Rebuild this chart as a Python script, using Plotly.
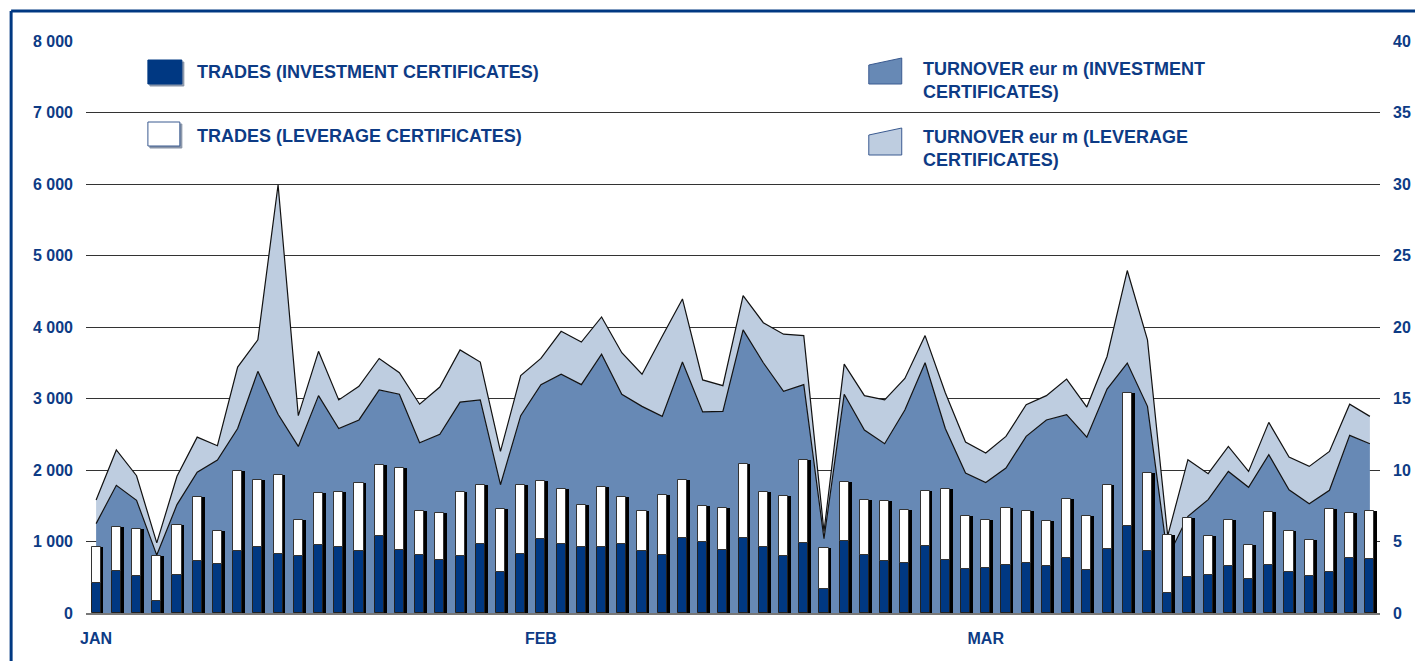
import plotly.graph_objects as go

# ---------------- data ----------------
month_labels = ["JAN", "FEB", "MAR"]
month_positions = [0, 22, 44]

trades_investment = [419, 587, 513, 172, 531, 727, 685, 871, 927, 825, 801, 946, 918, 871, 1072, 885,
                     815, 746, 792, 969, 573, 820, 1039, 969, 927, 927, 969, 867, 815, 1048, 993, 876,
                     1048, 923, 801, 979, 336, 1011, 815, 732, 699, 941, 736, 620, 634, 676, 699, 657,
                     764, 606, 899, 1221, 862, 280, 508, 536, 652, 471, 676, 573, 517, 569, 769, 755]

trades_leverage = [499, 611, 661, 625, 699, 890, 466, 1109, 937, 1109, 499, 732, 774, 946, 1002, 1137,
                   606, 657, 900, 820, 876, 969, 802, 764, 578, 830, 653, 554, 830, 816, 503, 587,
                   1040, 764, 830, 1165, 568, 816, 769, 829, 736, 760, 1002, 741, 671, 787, 722, 629,
                   825, 755, 886, 1859, 1095, 815, 825, 536, 653, 475, 741, 569, 508, 890, 624, 671]

turnover_investment = [6.25, 8.93, 7.88, 4.05, 7.58, 9.84, 10.7, 12.9, 16.9, 13.9, 11.65, 15.2, 12.9, 13.5,
                       15.6, 15.3, 11.9, 12.5, 14.75, 14.9, 8.97, 13.8, 15.97, 16.7, 15.97, 18.1, 15.3,
                       14.45, 13.75, 17.55, 14.06, 14.1, 19.8, 17.5, 15.5, 15.97, 5.2, 15.3, 12.8, 11.84,
                       14.2, 17.5, 12.9, 9.79, 9.13, 10.14, 12.35, 13.5, 13.87, 12.3, 15.66, 17.48, 14.45,
                       3.9, 6.76, 7.93, 9.9, 8.79, 11.07, 8.62, 7.64, 8.58, 12.42, 11.84]

turnover_leverage = [1.65, 2.47, 1.72, 0.85, 1.98, 2.46, 1.0, 4.3, 2.2, 16.05, 2.15, 3.1, 2.0, 2.35,
                     2.2, 1.5, 2.7, 3.3, 3.65, 2.65, 2.33, 2.8, 1.83, 3.0, 2.98, 2.6, 2.9, 2.25, 5.6,
                     4.41, 2.24, 1.8, 2.4, 2.8, 4.0, 3.43, 0.5, 2.1, 2.4, 3.06, 2.2, 1.9, 2.5, 2.17,
                     2.06, 2.21, 2.21, 1.7, 2.49, 2.1, 2.28, 6.47, 4.65, 1.5, 3.96, 1.81, 1.75, 1.11,
                     2.26, 2.28, 2.61, 2.72, 2.18, 1.91]

left_ticks = [0, 1000, 2000, 3000, 4000, 5000, 6000, 7000, 8000]
left_tick_text = ["0", "1 000", "2 000", "3 000", "4 000", "5 000", "6 000", "7 000", "8 000"]
right_ticks = [0, 5, 10, 15, 20, 25, 30, 35, 40]

legend_labels = ["TRADES (INVESTMENT CERTIFICATES)", "TRADES (LEVERAGE CERTIFICATES)",
                 "TURNOVER eur m (INVESTMENT<br>CERTIFICATES)", "TURNOVER eur m (LEVERAGE<br>CERTIFICATES)"]

# ---------------- style ----------------
NAVY = "#003882"
MID = "#6789B5"
LIGHT = "#BECDE0"
TXT = "#0D3B85"
FONT = "Liberation Sans, Arial, sans-serif"

OFF = 8  # page body margin
PAGE_W, PAGE_H = 1423, 661
W, H = PAGE_W - OFF, PAGE_H - OFF
# plot area in page pixels: x 86..1382, y 41..613
ML, MR, MT, MB = 86 - OFF, PAGE_W - 1382, 41 - OFF, PAGE_H - 613
PW, PH = W - ML - MR, H - MT - MB


def px(x):  # page x -> paper
    return (x - OFF - ML) / PW


def py(y):  # page y -> paper
    return (H - MB - (y - OFF)) / PH


idx = list(range(len(trades_investment)))
bw = 0.45
sh = 0.14
total_trades = [a + b for a, b in zip(trades_investment, trades_leverage)]

fig = go.Figure()

# turnover stacked areas (primary y, right side, drawn underneath)
fig.add_trace(go.Scatter(x=idx, y=turnover_investment, mode="lines", stackgroup="t",
                         line=dict(color="#111111", width=1.2), fillcolor=MID,
                         name="TURNOVER eur m (INVESTMENT CERTIFICATES)", yaxis="y"))
fig.add_trace(go.Scatter(x=idx, y=turnover_leverage, mode="lines", stackgroup="t",
                         line=dict(color="#111111", width=1.2), fillcolor=LIGHT,
                         name="TURNOVER eur m (LEVERAGE CERTIFICATES)", yaxis="y"))

# bar shadows
fig.add_trace(go.Bar(x=idx, y=total_trades, width=bw, offset=-bw / 2 + sh,
                     marker=dict(color="#000000", line=dict(width=0)), yaxis="y2",
                     showlegend=False, hoverinfo="skip"))
# trades bars
fig.add_trace(go.Bar(x=idx, y=trades_investment, width=bw, offset=-bw / 2,
                     marker=dict(color=NAVY, line=dict(color="#222222", width=1)), yaxis="y2",
                     name="TRADES (INVESTMENT CERTIFICATES)"))
fig.add_trace(go.Bar(x=idx, y=trades_leverage, base=trades_investment, width=bw, offset=-bw / 2,
                     marker=dict(color="#FFFFFF", line=dict(color="#333333", width=1)), yaxis="y2",
                     name="TRADES (LEVERAGE CERTIFICATES)"))

shapes = []
# frame lines
shapes.append(dict(type="line", xref="paper", yref="paper", x0=px(11), x1=px(11), y0=py(11), y1=py(PAGE_H + 5),
                   line=dict(color=NAVY, width=3)))
shapes.append(dict(type="line", xref="paper", yref="paper", x0=px(11), x1=px(PAGE_W + 5), y0=py(11), y1=py(11),
                   line=dict(color=NAVY, width=3)))


def rect(x0, y0, x1, y1, fill, line):
    return dict(type="rect", xref="paper", yref="paper", x0=px(x0), x1=px(x1), y0=py(y1), y1=py(y0),
                fillcolor=fill, line=dict(color=line, width=1))


shapes.append(rect(150, 62, 184, 86, "#8894A8", "#8894A8"))
shapes.append(rect(148, 60, 182, 84, NAVY, NAVY))
shapes.append(rect(150, 124, 182, 148, "#8894A8", "#8894A8"))
shapes.append(rect(148, 122, 180, 146, "#FFFFFF", "#3A5A90"))


def quad(x0, x1, ytop_l, ytop_r, ybot, fill):
    path = "M {a},{b} L {c},{d} L {c},{e} L {a},{e} Z".format(
        a=px(x0), b=py(ytop_l), c=px(x1), d=py(ytop_r), e=py(ybot))
    return dict(type="path", xref="paper", yref="paper", path=path, fillcolor=fill,
                line=dict(color="#3A5A90", width=1))


shapes.append(quad(870, 903, 65, 58, 84, MID))
shapes.append(quad(870, 903, 135, 128, 155, LIGHT))

annotations = []
leg_pos = [(196, 72), (196, 136), (923, 81), (923, 148)]
for (lx, ly), lab in zip(leg_pos, legend_labels):
    annotations.append(dict(xref="paper", yref="paper", x=px(lx), y=py(ly), text=lab, showarrow=False,
                            xanchor="left", yanchor="middle", align="left", xshift=-1,
                            font=dict(family=FONT, size=18, color=TXT, weight="bold")))

fig.update_layout(
    width=W, height=H,
    margin=dict(l=ML, r=MR, t=MT, b=MB),
    paper_bgcolor="white", plot_bgcolor="white",
    barmode="overlay", bargap=0,
    showlegend=False,
    font=dict(family=FONT, size=16, color=TXT),
    xaxis=dict(range=[-0.5, len(idx) - 0.5], tickvals=month_positions, ticktext=month_labels,
               showgrid=False, zeroline=False, showline=True, linecolor="#777777", linewidth=2,
               ticks="", ticklabelstandoff=10,
               tickfont=dict(family=FONT, size=16, color=TXT, weight="bold")),
    yaxis=dict(range=[0, 40], tickvals=right_ticks, side="right", showgrid=True,
               gridcolor="#333333", gridwidth=1, zeroline=False, showline=False, ticks="",
               ticklabelstandoff=12,
               tickfont=dict(family=FONT, size=16, color=TXT, weight="bold")),
    yaxis2=dict(range=[0, 8000], tickvals=left_ticks, ticktext=left_tick_text, side="left",
                overlaying="y", showgrid=False, zeroline=False, showline=False, ticks="",
                ticklabelstandoff=12,
                tickfont=dict(family=FONT, size=16, color=TXT, weight="bold")),
    shapes=shapes,
    annotations=annotations,
)

fig.write_html("out.html")
